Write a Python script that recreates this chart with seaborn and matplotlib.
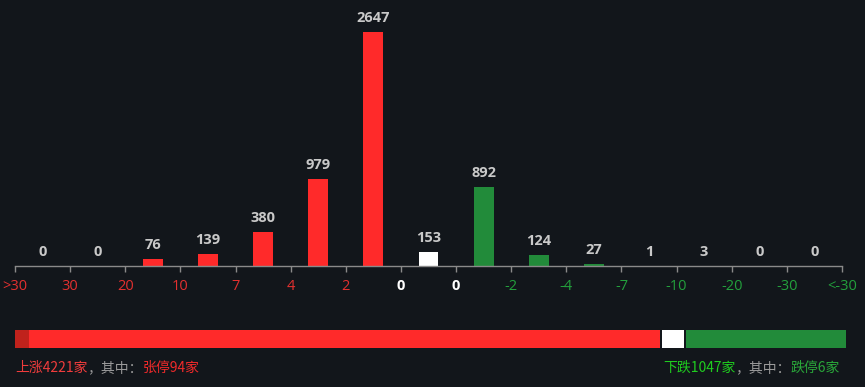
import matplotlib
matplotlib.use("Agg")
import matplotlib.pyplot as plt
import seaborn as sns
import pandas as pd

# ---- data ----
categories = ["c%d" % i for i in range(15)]
values = [0, 0, 76, 139, 380, 979, 2647, 153, 892, 124, 27, 1, 3, 0, 0]
bar_groups = ["up"] * 7 + ["flat"] + ["down"] * 7
tick_labels = [">30", "30", "20", "10", "7", "4", "2", "0", "0", "-2", "-4", "-7", "-10", "-20", "-30", "<-30"]
tick_groups = ["up"] * 7 + ["flat", "flat"] + ["down"] * 7
up_total, flat_total, down_total = 4221, 153, 1047
limit_up, limit_down = 94, 6

BG = "#12161b"
RED = "#ff2a2a"
DARKRED = "#c0221c"
GREEN = "#228b3a"
WHITE = "#ffffff"
bar_colors = {"up": RED, "flat": WHITE, "down": GREEN}
tick_colors = {"up": "#e3302f", "flat": "#ffffff", "down": "#23a03c"}

sns.set_theme(style="dark")
plt.rcParams["font.family"] = ["Noto Sans CJK SC", "DejaVu Sans"]

W, H = 865, 387
fig = plt.figure(figsize=(W / 100, H / 100), dpi=100, facecolor=BG)

def frac(x0, y0, x1, y1):
    return [x0 / W, 1 - y1 / H, (x1 - x0) / W, (y1 - y0) / H]

ax = fig.add_axes(frac(15, 10, 842, 266))
ax.set_facecolor(BG)
df = pd.DataFrame({"cat": categories, "val": values, "grp": bar_groups})
sns.barplot(data=df, x="cat", y="val", hue="grp", palette=bar_colors,
            width=0.36, dodge=False, legend=False, ax=ax, saturation=1,
            linewidth=0, edgecolor="none")
ax.set_xlim(-0.5, 14.5)
top = 2647 * 256 / 234
ax.set_ylim(0, top)
for i, v in enumerate(values):
    ax.annotate(str(v), (i, v), xytext=(0, 7), textcoords="offset pixels",
                ha="center", va="bottom", color="#c9c9c9", fontsize=10.5,
                fontweight="bold", family=["Open Sans", "DejaVu Sans"])
ax.set_xticks([i - 0.5 for i in range(16)])
ax.set_xticklabels(tick_labels, family=["Open Sans", "DejaVu Sans"], fontsize=10.5)
for lbl, g in zip(ax.get_xticklabels(), tick_groups):
    lbl.set_color(tick_colors[g])
    if g == "flat":
        lbl.set_fontweight("bold")
ax.tick_params(axis="x", length=4, width=1, color="#8a8a8a", pad=5, bottom=True)
ax.set_yticks([])
ax.set_xlabel("")
ax.set_ylabel("")
ax.grid(False)
for s in ["top", "right", "left"]:
    ax.spines[s].set_visible(False)
ax.spines["bottom"].set_color("#8a8a8a")
ax.spines["bottom"].set_linewidth(1)

# ---- progress bar ----
total = up_total + flat_total + down_total
ax2 = fig.add_axes(frac(15, 330, 846, 348))
ax2.set_facecolor(BG)
ax2.set_xlim(0, total)
ax2.set_ylim(-0.5, 0.5)
gap = total * 2 / 830
ax2.barh([0], [up_total - gap], left=[0], height=1, color=RED, linewidth=0)
ax2.barh([0], [limit_up], left=[0], height=1, color=DARKRED, linewidth=0)
ax2.barh([0], [flat_total - gap], left=[up_total], height=1, color=WHITE, linewidth=0)
ax2.barh([0], [down_total], left=[up_total + flat_total], height=1, color=GREEN, linewidth=0)
ax2.axis("off")

# ---- bottom text ----
fig.canvas.draw()
renderer = fig.canvas.get_renderer()
fs = 10
yy = 1 - 368 / H

def chain(parts, x, ha):
    if ha == "left":
        for txt, col in parts:
            t = fig.text(x, yy, txt, color=col, fontsize=fs, ha="left", va="center")
            bb = t.get_window_extent(renderer)
            x = bb.x1 / W
    else:
        for txt, col in reversed(parts):
            t = fig.text(x, yy, txt, color=col, fontsize=fs, ha="right", va="center")
            bb = t.get_window_extent(renderer)
            x = bb.x0 / W

chain([("上涨%d家" % up_total, "#f03c3c"), ("，其中：", "#9a9a9a"),
       ("张停%d家" % limit_up, "#f02a2a")], 15 / W, "left")
chain([("下跌%d家" % down_total, "#1fcc1f"), ("，其中：", "#9a9a9a"),
       ("跌停%d家" % limit_down, "#2aa83a")], 840 / W, "right")

fig.savefig("out.png", dpi=100, facecolor=BG)
